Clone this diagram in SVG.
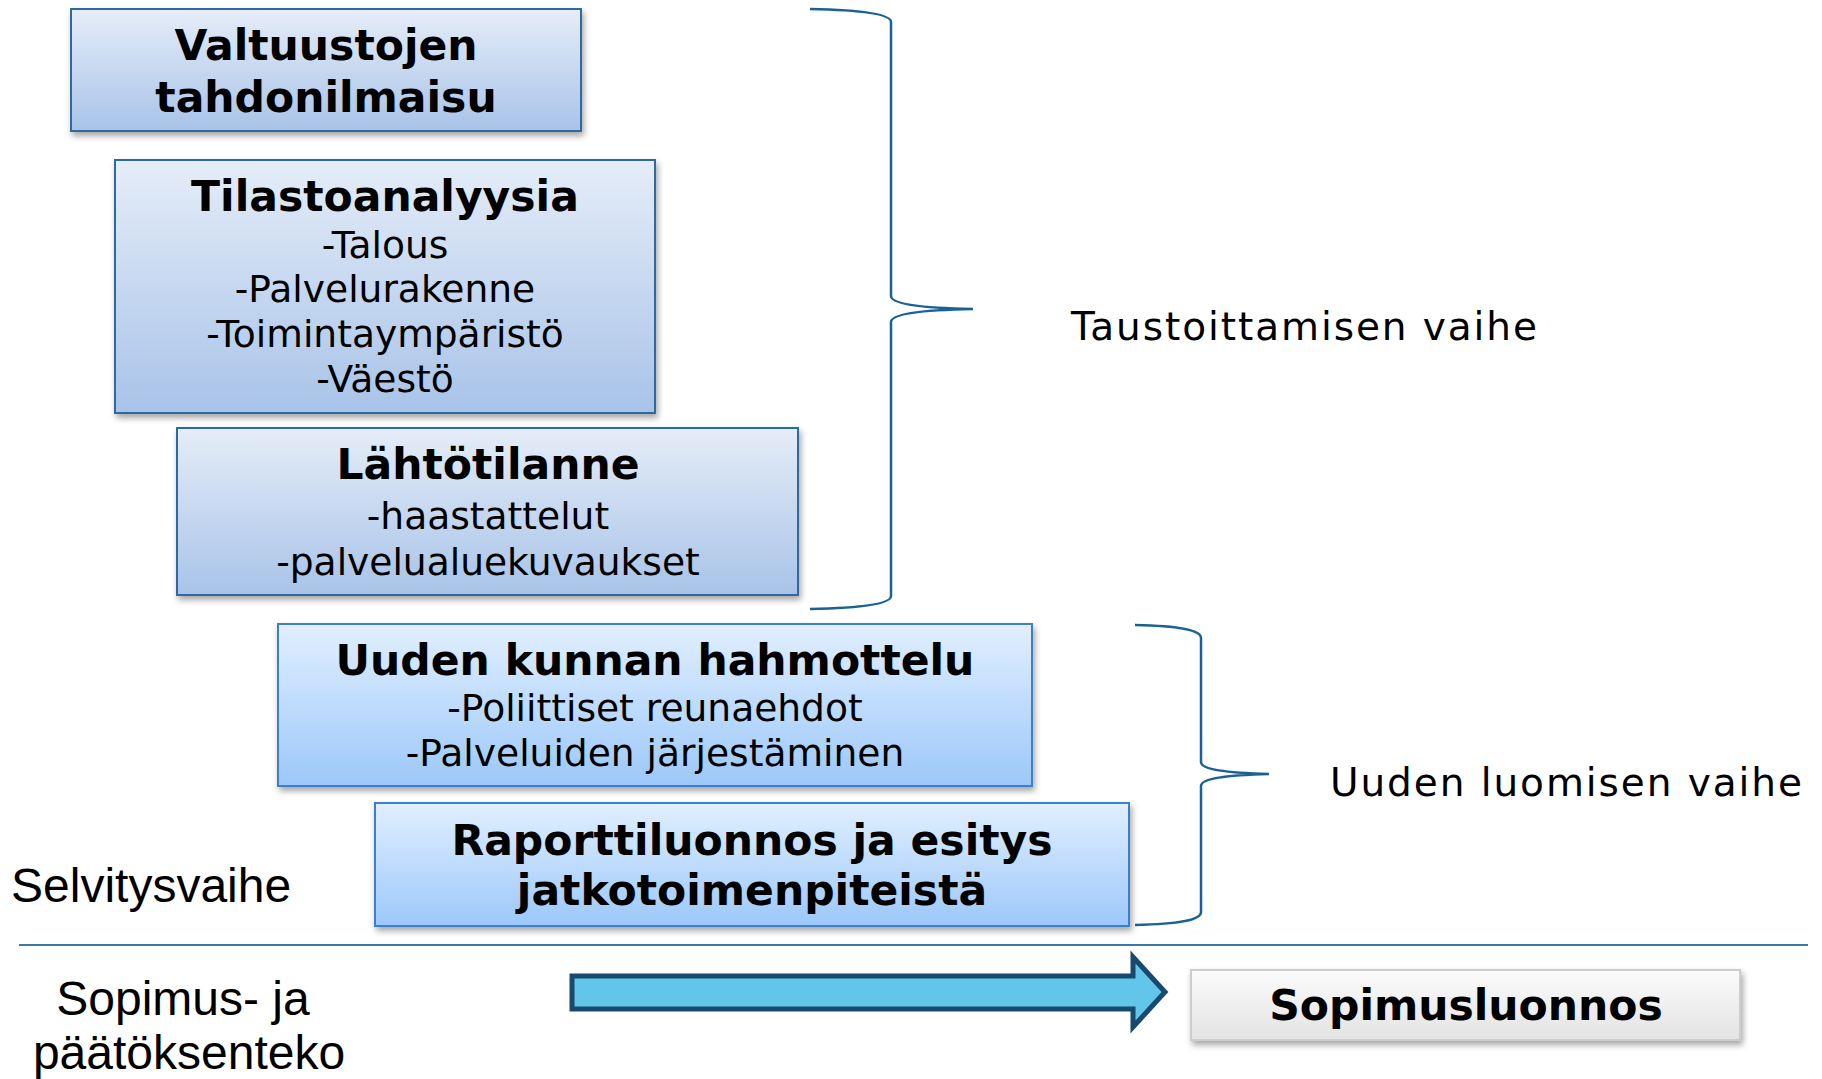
<svg xmlns="http://www.w3.org/2000/svg" width="1822" height="1079" viewBox="0 0 1822 1079">
<style>
.bA{fill:url(#gA);stroke:#2f6aa0;stroke-width:2}
.bB{fill:url(#gB);stroke:#3a80c8;stroke-width:2}
.bC{fill:url(#gC);stroke:#cdcdcd;stroke-width:2}
.t{font-family:"DejaVu Sans",Verdana,sans-serif;font-weight:bold;font-size:42.5px;fill:#000;text-anchor:middle}
.s{font-family:"DejaVu Sans",Verdana,sans-serif;font-size:37.6px;fill:#000;text-anchor:middle}
.p{font-family:"DejaVu Sans",Verdana,sans-serif;font-size:39px;fill:#000}
.a{font-family:"Liberation Sans",Arial,sans-serif;font-size:48px;fill:#000}
.br{fill:none;stroke:#1a6196;stroke-width:2.5}
</style>
<defs>
<linearGradient id="gA" x1="0" y1="0" x2="0" y2="1"><stop offset="0" stop-color="#e5edf8"/><stop offset="1" stop-color="#a8c3e8"/></linearGradient>
<linearGradient id="gB" x1="0" y1="0" x2="0" y2="1"><stop offset="0" stop-color="#e1efff"/><stop offset="1" stop-color="#9cc8fa"/></linearGradient>
<linearGradient id="gC" x1="0" y1="0" x2="0" y2="1"><stop offset="0" stop-color="#fbfbfb"/><stop offset="1" stop-color="#e3e3e3"/></linearGradient>
<filter id="sh" x="-5%" y="-10%" width="112%" height="125%"><feDropShadow dx="2" dy="4" stdDeviation="3" flood-color="#000" flood-opacity="0.35"/></filter>
</defs>

<g id="node-valtuustojen">
<rect class="bA" x="71" y="9" width="510" height="122" filter="url(#sh)"/>
<text class="t" x="326" y="60">Valtuustojen</text>
<text class="t" x="326" y="112">tahdonilmaisu</text>
</g>

<g id="node-tilastoanalyysia">
<rect class="bA" x="115" y="160" width="540" height="253" filter="url(#sh)"/>
<text class="t" x="385" y="211">Tilastoanalyysia</text>
<text class="s" x="385" y="258">-Talous</text>
<text class="s" x="385" y="302">-Palvelurakenne</text>
<text class="s" x="385" y="347">-Toimintaympäristö</text>
<text class="s" x="385" y="392">-Väestö</text>
</g>

<g id="node-lahtotilanne">
<rect class="bA" x="177" y="428" width="621" height="167" filter="url(#sh)"/>
<text class="t" x="488" y="479">Lähtötilanne</text>
<text class="s" x="488" y="529">-haastattelut</text>
<text class="s" x="488" y="575">-palvelualuekuvaukset</text>
</g>

<g id="node-uuden-kunnan">
<rect class="bB" x="278" y="624" width="754" height="162" filter="url(#sh)"/>
<text class="t" x="655" y="675">Uuden kunnan hahmottelu</text>
<text class="s" x="655" y="721">-Poliittiset reunaehdot</text>
<text class="s" x="655" y="766">-Palveluiden järjestäminen</text>
</g>

<g id="node-raportti">
<rect class="bB" x="375" y="803" width="754" height="123" filter="url(#sh)"/>
<text class="t" x="752" y="855">Raporttiluonnos ja esitys</text>
<text class="t" x="752" y="905">jatkotoimenpiteistä</text>
</g>

<g id="node-sopimusluonnos">
<rect class="bC" x="1191" y="970" width="549" height="70" filter="url(#sh)"/>
<text class="t" x="1466" y="1020">Sopimusluonnos</text>
</g>

<g id="labels">
<text class="p" x="1071" y="340" textLength="466" lengthAdjust="spacing">Taustoittamisen vaihe</text>
<text class="p" x="1330" y="796" textLength="472" lengthAdjust="spacing">Uuden luomisen vaihe</text>
<text class="a" x="11" y="902">Selvitysvaihe</text>
<text class="a" x="183" y="1015" text-anchor="middle">Sopimus- ja</text>
<text class="a" x="189" y="1069" text-anchor="middle">päätöksenteko</text>
</g>

<g id="connectors">
<path class="br" d="M810,9 C860,10 891,14 891,22 L891,296 C891,304 920,308 973,309 C920,310 891,314 891,322 L891,596 C891,604 860,608 810,609"/>
<path class="br" d="M1135,625 C1180,626 1201,630 1201,638 L1201,762 C1201,770 1230,773 1269,774 C1230,775 1201,778 1201,786 L1201,912 C1201,920 1180,924 1135,925"/>
<line x1="19" y1="945" x2="1808" y2="945" stroke="#3a78a8" stroke-width="2"/>
<polygon points="572,976 1133,976 1133,957 1165,992 1133,1027 1133,1009 572,1009" fill="#62c6ea" stroke="#174a6e" stroke-width="5" stroke-linejoin="miter"/>
</g>
</svg>
